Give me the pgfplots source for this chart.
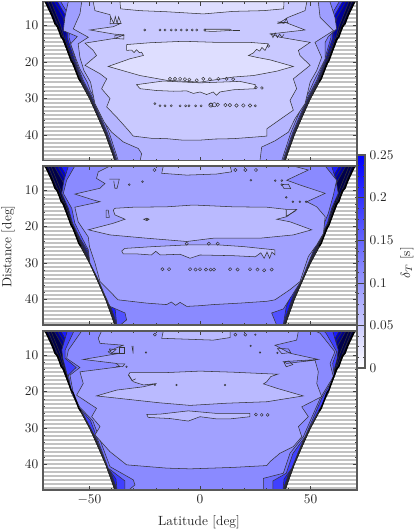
\documentclass[border=0pt]{standalone}
\usepackage{pgfplots}
\pgfplotsset{compat=1.18}
\definecolor{cont}{gray}{0.2}
\definecolor{navyb}{rgb}{0,0,0.3}
\pgfplotsset{
 panel/.style={scale only axis,width=235.5pt,height=119.25pt,anchor=south west,
  xmin=-71,xmax=71,ymin=3.4,ymax=47,y dir=reverse,
  xtick={-50,0,50},minor x tick num=4,ytick={10,20,30,40},minor y tick num=4,
  tick align=inside,major tick length=3pt,minor tick length=1.5pt,
  tick style={black!75,line width=0.4pt},axis on top,
  axis line style={black!65,line width=0.8pt},
  tick label style={black!85}},
 c/.style={draw=cont,line width=0.4pt},
 ln/.style={draw=cont,line width=0.4pt,no markers},
 chain/.style={only marks,mark=o,mark size=#1,mark options={draw=cont,line width=0.35pt,fill=none}},
 colormap={wb}{color=(white) color=(blue)}
}
\newcommand{\stripes}{%
 \pgfplotsinvokeforeach{3.6,4.7,5.8,6.9,8,9.1,10.2,11.3,12.4,13.5,14.6,15.7,16.8,17.9,19,20.1,21.2,22.3,23.4,24.5,25.6,26.7,27.8,28.9,30,31.1,32.2,33.3,34.4,35.5,36.6,37.7,38.8,39.9,41,42.1,43.2,44.3,45.4,46.5}{
  \addplot[black!24,line width=1.5pt,no markers] coordinates {(-71,##1)(71,##1)};
 }
}
% #1..#5: fill of the five corner bands, outermost first
\newcommand{\fan}[5]{%
 \addplot[fill=navyb,draw=black,line width=0.3pt] coordinates {(-70,3.4)(-65,10)(-62.5,13.3)(-58,20)(-54.5,25)(-50,30)(-43,39.5)(-38.5,47.1)(38.5,47.1)(43,39.5)(50,30)(54.5,25)(58,20)(62.5,13.3)(65,10)(70,3.4)} --cycle;
 \addplot[fill=#1,c] coordinates {(-68.7,3.4)(-64.2,10)(-62,13.3)(-57.6,20)(-54.1,25)(-49.7,30)(-42.8,39.5)(-38.3,47.1)(38.3,47.1)(42.8,39.5)(49.7,30)(54.1,25)(57.6,20)(62,13.3)(64.2,10)(68.7,3.4)} --cycle;
 \addplot[fill=#2,c] coordinates {(-67.4,3.4)(-63,10)(-61.5,13.3)(-57.2,20)(-53.8,25)(-49.4,30)(-42.6,39.5)(-38.1,47.1)(38.1,47.1)(42.6,39.5)(49.4,30)(53.8,25)(57.2,20)(61.5,13.3)(63,10)(67.4,3.4)} --cycle;
 \addplot[fill=#3,c] coordinates {(-66,3.4)(-61.8,8)(-60.5,12)(-60.8,13.3)(-56.8,20)(-53.5,25)(-49.1,30)(-42.4,39.5)(-37.9,47.1)(37.9,47.1)(42.4,39.5)(49.1,30)(53.5,25)(56.8,20)(60.8,13.3)(60.5,12)(61.8,8)(66,3.4)} --cycle;
 \addplot[fill=#4,c] coordinates {(-64.5,3.4)(-61,7)(-60,11)(-60,13.3)(-56.4,20)(-53.2,25)(-48.8,30)(-42.1,39.5)(-37.7,47.1)(37.7,47.1)(42.1,39.5)(48.8,30)(53.2,25)(56.4,20)(60,13.3)(60,11)(61,7)(64.5,3.4)} --cycle;
 \addplot[fill=#5,c] coordinates {(-63,3.4)(-59.5,7)(-59,11)(-59.2,13.3)(-56,20)(-52.8,25)(-48.4,30)(-41.8,39.5)(-37.4,47.1)(37.4,47.1)(41.8,39.5)(48.4,30)(52.8,25)(56,20)(59.2,13.3)(59,11)(59.5,7)(63,3.4)} --cycle;
}
\newcommand{\edge}{%
 \addplot[black,line width=1.1pt,no markers] coordinates {(-70,3.4)(-67,7.2)(-65.5,9.6)(-64.4,10.2)(-62.8,13.1)(-61.7,13.8)(-58.3,19.6)(-57.4,20.4)(-54.8,24.6)(-53.9,25.4)};
 \addplot[black!85,line width=0.6pt,no markers] coordinates {(-53.9,25.4)(-50.3,29.6)(-49.6,30.4)(-47.2,33.4)(-46.6,34.2)(-43.3,39.1)(-42.6,39.9)(-40.8,43)(-40.2,43.6)(-38.5,47.1)};
 \addplot[black,line width=1.1pt,no markers] coordinates {(70,3.4)(67,7.2)(65.5,9.6)(64.4,10.2)(62.8,13.1)(61.7,13.8)(58.3,19.6)(57.4,20.4)(54.8,24.6)(53.9,25.4)};
 \addplot[black!85,line width=0.6pt,no markers] coordinates {(53.9,25.4)(50.3,29.6)(49.6,30.4)(47.2,33.4)(46.6,34.2)(43.3,39.1)(42.6,39.9)(40.8,43)(40.2,43.6)(38.5,47.1)};
}
\begin{document}
\begin{tikzpicture}
\path[use as bounding box] (0,0) rectangle (312pt,399pt);
% ---------- panel 1
\begin{axis}[panel,at={(32.25pt,278.6pt)},xticklabels={}]
\stripes
\fan{navyb}{blue!60!black}{blue!80!black}{blue!72}{blue!52}
\addplot[fill=blue!38,c] coordinates {(-59.6,3.5)(-61.1,7.7)(-61.8,11.4)(-55.5,13)(-58.5,15)(-56.1,19.1)(-54.3,21.9)(-51,25.5)(-49.5,28)(-47.5,30)(-41,39.5)(-36.9,47.1)(36.9,47.1)(41,39.5)(47.5,30)(49.5,28)(51.3,25.5)(54.3,21.9)(56.6,19.1)(56.6,14.6)(58,13)(61.8,10.9)(61,7.7)(58.8,3.5)} --cycle;
\addplot[fill=blue!29,c] coordinates {(-53.5,3.5)(-54.3,6.8)(-57.3,10.9)(-50.5,13.2)(-55.1,15)(-54.3,18.7)(-52.5,22.3)(-49.5,25.5)(-47.5,31.4)(-43.4,36.4)(-40,39.2)(-34.7,41.9)(-27.9,43.7)(-26.4,45.1)(-27.1,47.1)(27.1,47.1)(27.9,43.3)(33.9,41.6)(40,39.2)(43,35.5)(47.5,31.4)(49.8,25.5)(52.8,22.3)(55,18.7)(52,14.6)(60.3,11.4)(54.3,7.7)(53.5,3.5)} --cycle;
\addplot[fill=blue!21,c] coordinates {(-48.3,3.5)(-47.5,5.9)(-40.7,7)(-40.4,7.9)(-40.7,9.5)(-35.9,9.4)(-39.2,10.3)(-49.8,11.2)(-39.2,12.3)(-34.4,12.6)(-38.5,13.5)(-52,14.8)(-48.3,16.8)(-46.8,18.2)(-52,20.9)(-45.2,23.2)(-42.2,24.6)(-44.5,27.3)(-40.7,30)(-42.2,32.3)(-37.7,35.1)(-32.4,38.7)(-30.2,40.3)(-22,40.9)(-15.1,41)(-8,41.4)(0,41.4)(7,41.1)(15.1,41)(24,40.6)(30.2,40.3)(30.2,38.3)(37.7,35.1)(42.2,33.2)(40.7,30.5)(43.7,27.3)(42.2,24.6)(49.8,20.9)(45.2,18.2)(44.5,16.8)(49.8,14.6)(36.2,13.2)(31.7,12.3)(47.5,11.2)(38.5,9.1)(35.4,9.4)(40,7.7)(47.5,5.9)(48.3,3.5)} --cycle;
\addplot[fill=blue!13,c] coordinates {(-36.2,3.5)(-35.9,5.4)(-27.2,5.9)(-15.1,6.2)(1.5,6.8)(15.1,6.1)(28.7,5.9)(37.8,5.4)(38,3.5)} --cycle;
\addplot[fill=blue!13,c] coordinates {(-33.2,15.2)(-22.6,14.7)(-7.5,14.3)(7.5,14.6)(22.6,14.6)(30.9,15)(29.4,16.8)(28,16)(27,17)(25.6,16.5)(24.1,17.5)(21.9,18.2)(25.6,18.7)(31.7,19.4)(42.2,21.2)(34.7,22.5)(24.1,23.7)(15.1,24.1)(0,25.5)(-15.1,25)(-27.1,23.7)(-41.5,21.2)(-31.7,19.1)(-25.6,18.2)(-26.4,17.3)(-27.5,17.4)(-28.7,16.6)(-29.8,17.4)(-30.9,16.7)(-33.2,16.8)} --cycle;
\addplot[fill=blue!13,c] coordinates {(-28.7,26.2)(-16.6,25.2)(0,25.7)(18,25.3)(25,26.2)(24.9,27.3)(15.1,27.6)(9,28.2)(7.5,29.1)(6,28.2)(3,28.9)(0,28.2)(-3,28.6)(-6,27.9)(-12,28)(-19.6,27.8)(-27.1,27.3)} --cycle;
\addplot[fill=blue!21,chain=1.2pt] coordinates {(-13.6,24.6)(-11.3,24.6)(-9,24.6)(-6.8,24.7)(-4.8,24.8)(-1.5,25)(1.5,24.6)(4.5,24.7)(8.3,24.6)(12,24.6)(15,24.7)};
\addplot[chain=1.3pt] coordinates {(5,31.7)(8,31.7)(11.5,31.8)(13.5,31.8)(16.5,31.9)(19.6,31.9)(22.6,31.9)};
\addplot[chain=1.6pt] coordinates {(4.9,31.8)(6.5,31.7)};
\addplot[chain=0.8pt] coordinates {(-18.1,32)(-15.8,32)(-13,32)(-9,32)(-6.5,32)(-5,32)(-2,32)(0.5,32)(25,32)(-20.4,31.4)(-25,11.2)(-18.1,11.2)(-15.8,11.2)(-13,11.2)(-11,11.2)(-8.5,11.2)(-6,11.2)(-3.5,11.2)(-1.5,11.2)(2.2,11.2)};
\addplot[chain=1pt] coordinates {(25.3,27)(28,27.1)(31,15.6)};
\addplot[fill=blue!13,c] coordinates {(2.3,11)(13.5,11)(14.5,11.3)(6,11.6)(2.3,11.5)} --cycle;
\addplot[ln] coordinates {(15,11.2)(18,11.2)};
\addplot[ln] coordinates {(-40.5,7.5)(-39,9.4)(-38.3,7.5)(-37.5,9.4)(-36.8,7.6)(-35.7,9.4)};
\addplot[ln] coordinates {(-38.5,12.7)(-34.5,12.5)(-34.4,13.7)(-38.5,13.5)(-38.5,12.7)};
\addplot[ln] coordinates {(35,9)(38,9.4)(39,8)(39.7,9.2)(35.4,9)};
\addplot[ln] coordinates {(32,12)(33,13.3)(34,12)(35,13.3)(36,12.3)(37,13.2)(38,12.4)};
\edge
\end{axis}
% ---------- panel 2
\begin{axis}[panel,at={(32.25pt,155.25pt)},xticklabels={}]
\stripes
\fan{navyb}{navyb}{blue!60!black}{blue!80!black}{blue!90}
\addplot[fill=blue!68,c] coordinates {(-59.5,3.4)(-61.5,7.3)(-62.5,10.9)(-59.5,15)(-57.6,19.1)(-54,23.5)(-51,26.4)(-48,30)(-43,36)(-38.5,42)(-37.6,47.1)(37.6,47.1)(39,42)(43,36)(48,30)(51,26.4)(54,23.5)(57.6,19.1)(59.5,15)(62.5,10.9)(61.5,7.3)(59.5,3.4)} --cycle;
\addplot[fill=blue!46,c] coordinates {(-56.6,3.4)(-60.3,7.3)(-61.8,10.9)(-58,15)(-56.6,19.1)(-53,23.5)(-50.5,26.4)(-49.8,30)(-46,34.6)(-43.4,38.3)(-40.7,41.9)(-33.9,43.7)(-33.2,45.6)(-36.2,47.1)(34.7,47.1)(32.4,43.7)(37.7,42.6)(42.2,38.3)(46,34.6)(49,30)(52,25.5)(55,20.9)(58,16.4)(60.3,11.4)(61.8,7.3)(56.6,3.4)} --cycle;
\addplot[fill=blue!37,c] coordinates {(-40.7,3.4)(-46,5)(-46.8,6.8)(-43,8.2)(-45.2,9.5)(-56.6,11.1)(-48.3,12.7)(-45.2,13.2)(-56.6,14.7)(-55.1,18.7)(-50.5,22.9)(-50,25.5)(-47.5,30)(-45.2,35.1)(-37,40.1)(-24.1,41)(-15.1,41.4)(-13,40.7)(-11,41.6)(-9,40.8)(-6,41.9)(0,41.7)(6,41.4)(18,41)(30.2,40.5)(33.9,40.1)(40.7,37.3)(45.2,35.1)(49,28.2)(52.8,25)(55.8,21.9)(56.6,17.3)(52.8,14.6)(48.3,13.2)(56.6,10.9)(45.2,8.6)(39.2,7.3)(49,4.5)(42.2,3.4)} --cycle;
\addplot[fill=blue!27,c] coordinates {(-39.2,15.5)(-38.5,15)(-30.2,14.7)(-15.1,14.6)(-3,14.1)(15.1,14.6)(30.2,14.7)(39.2,15.3)(43.7,15.3)(39.2,17.3)(34.7,18)(40.7,18.7)(50.5,20.9)(42.2,22.3)(27.1,23.2)(6,23.2)(-6,24.1)(-24.1,23.2)(-40.7,22.3)(-50.5,20.9)(-39.2,19.1)(-33.9,18)(-38.5,16.8)} --cycle;
\addplot[fill=blue!27,c] coordinates {(-35.4,26.7)(-34,26)(-21.1,25.5)(-4.5,25)(7.5,25)(19.6,25.5)(33.9,26.4)(33.9,27.8)(32.5,27)(31.5,28.7)(30.3,27)(29,28.7)(27.5,27.2)(25,28.3)(15.1,28)(0,27.8)(-4.5,28.7)(-9,27.6)(-18,27.8)(-20,26.8)(-22,27.8)(-28.7,27.5)(-34.7,27.5)} --cycle;
\addplot[fill=blue!27,c] coordinates {(-16.6,3.4)(-17.3,5.4)(-6,5.9)(7.5,5.6)(14.3,5)(13.6,3.4)} --cycle;
\addplot[chain=1.2pt] coordinates {(-17,31.7)(-14,31.7)(-4.5,31.7)(-2,31.8)(0,31.7)(2.7,31.8)(4.8,31.8)(6.3,31.8)(13.6,31.7)(17,31.8)(22.6,31.7)(26,31.8)(29,32)(32.4,31.8)(4,24.7)(8,24.7)(-6,24.7)(-20.6,4.5)(16,4.5)(20.5,4.5)(25.3,4.5)};
\addplot[chain=0.7pt] coordinates {(-26,7.7)(-32,8.5)(-24,18)(23,7.3)(37,7.4)(34,7.4)(48,13.2)(45.2,13.2)(42,13.2)(39,12)(37,8.5)};
\addplot[ln] coordinates {(-41,7)(-36.5,7)(-37.5,9.5)(-38.5,9.5)(-39,7.5)};
\addplot[ln] coordinates {(-42.5,15.5)(-42.5,17.5)(-41,17.5)(-41.5,15.5)(-42.5,15.5)};
\addplot[ln] coordinates {(39,15.4)(39,17.2)(43.5,15.6)};
\addplot[ln] coordinates {(37,8.5)(40,8.4)(41,9.6)(38,9.6)(37,8.5)};
\addplot[fill=blue!27,c] coordinates {(-25.5,18)(-24,17.7)(-23,18)(-24,18.4)} --cycle;
\edge
\end{axis}
% ---------- panel 3
\begin{axis}[panel,at={(32.25pt,31.5pt)},xticklabels={$-50$,$0$,$50$}]
\stripes
\fan{navyb}{navyb}{blue!55!black}{blue!75!black}{blue!90}
\addplot[fill=blue!75,c] coordinates {(-60,3.4)(-62.5,8.6)(-62,11)(-60,15.5)(-58,20.5)(-53,26)(-47,32.8)(-41.5,41)(-38,44)(-37.5,47.1)(37.5,47.1)(38,44)(41.5,41)(47,32.8)(53,26)(58,20.5)(60,15.5)(62,11)(62.5,8.6)(60,3.4)} --cycle;
\addplot[fill=blue!57,c] coordinates {(-57,3.4)(-61,8.6)(-61,10.9)(-56,13.4)(-59.5,15.5)(-58,20.5)(-55,24.2)(-49.5,28)(-46.5,32.8)(-41.5,41)(-34,44.5)(-34,47.1)(33,47.1)(33,44.5)(39,42.4)(42,37)(47.5,32.4)(55,21.9)(60.8,15.9)(60,12.3)(61.8,9.1)(57,4)(56,3.4)} --cycle;
\addplot[fill=blue!46,c] coordinates {(-53.5,3.4)(-59.5,8.6)(-60.3,10.9)(-54.3,13.4)(-58.8,15.5)(-57.3,20.5)(-54.5,24.2)(-48.5,28)(-45.5,32.8)(-40.7,40.6)(-30.2,44.2)(-29.4,45.6)(-32.4,47.1)(28.7,47.1)(28.7,43.8)(37.7,42.4)(40.7,36.9)(46.7,32.4)(54.3,21.9)(60.3,15.9)(58.8,12.3)(61,9.1)(54.3,4)(52,3.4)} --cycle;
\addplot[fill=blue!37,c] coordinates {(-44.5,3.4)(-46,5.4)(-45.2,6.8)(-34.7,7.3)(-38.5,8.2)(-41.5,9.1)(-40.7,9.5)(-36.2,9.5)(-52.8,11.2)(-37.7,12.3)(-36.2,13.2)(-54.3,14.6)(-52.8,17.8)(-55.8,21)(-46.8,24.6)(-49,26.9)(-45.2,29.6)(-47.5,31.9)(-40.7,36.5)(-33.2,40.1)(-15.1,41)(-4.5,41.2)(15.1,40.8)(30.2,40.3)(31.7,39.2)(36.2,36.9)(42.2,35.1)(46,32.4)(44.5,29.6)(49,26.9)(46,24.2)(55,21.4)(52.8,17.8)(53.5,14.6)(52,11.4)(39.2,12.3)(37.7,11.8)(53.5,11.2)(40.7,9.5)(33.9,7.3)(43.7,5.9)(44.5,3.4)} --cycle;
\addplot[fill=blue!27,c] coordinates {(-32.4,15.5)(-31.7,14.8)(-15.1,14.8)(0,14.4)(15.1,14.7)(33.2,15.2)(35.4,15.2)(32,15.9)(30.2,17.3)(28.7,17.9)(34.7,19.1)(46.7,21.2)(30.2,22.8)(12.1,23.2)(-4.5,23.8)(-18.1,23.1)(-46.8,21.2)(-37.7,19.6)(-25.6,18.7)(-19.6,17.8)(-25.6,18.2)(-30.2,17.3)} --cycle;
\addplot[fill=blue!27,c] coordinates {(-24.1,26.3)(-18.1,26.2)(-5.3,25.3)(7.5,26)(22.6,26)(22.6,26.9)(13.6,27.5)(7.5,27.5)(0,26.9)(-5.3,28.1)(-13.6,27.4)(-23.4,27.1)} --cycle;
\addplot[fill=blue!27,c] coordinates {(-16.6,3.4)(-17.3,5.4)(6,5.9)(13.6,5.2)(13.6,3.4)} --cycle;
\addplot[chain=1.1pt] coordinates {(25.3,26.3)(27.9,26.4)(30.6,26.4)(-20.4,4.4)(16,4.4)(20.5,4.4)};
\addplot[chain=0.6pt] coordinates {(-10.6,18.2)(11.3,18.2)(-20.4,18.2)(22.9,7.5)(27.1,9.3)(-24.4,9.3)(-33.2,13.2)(25,4.4)(35,9.4)};
\addplot[ln] coordinates {(-41,8.3)(-38,8.5)(-40,9.5)(-41,8.3)};
\addplot[ln] coordinates {(-36.5,7.8)(-34.4,7.8)(-34.4,9.6)(-36.5,9.6)(-36.5,7.8)};
\addplot[ln] coordinates {(-30.8,7.5)(-30.2,9.6)(-30.2,7.5)};
\addplot[ln] coordinates {(35,8.2)(40,8.3)(41,9.3)(37,9.6)(35,8.2)};
\addplot[ln] coordinates {(38,12)(40,11.6)(42,12.6)(39,13.2)(38,12)};
\addplot[ln] coordinates {(-38,12.4)(-34,12.4)(-35,13.2)(-38,13.1)};
\addplot[ln] coordinates {(-32,15.6)(-30.8,17)(-29,16.5)};
\edge
\end{axis}
% ---------- colour bar
\begin{axis}[scale only axis,width=6pt,height=159.75pt,at={(267.75pt,123pt)},anchor=south west,
 xmin=0,xmax=1,ymin=0,ymax=0.25,xtick=\empty,
 ytick={0,0.05,0.1,0.15,0.2,0.25},yticklabels={0,0.05,0.1,0.15,0.2,0.25},minor y tick num=3,
 yticklabel pos=right,tick align=inside,major tick length=3pt,minor tick length=1.5pt,
 tick style={black!75,line width=0.4pt},axis on top,
 axis line style={black!65,line width=0.8pt},tick label style={black!85},
 colormap name=wb,point meta min=0,point meta max=0.25]
\addplot[surf,shader=interp,mesh/rows=2,mesh/cols=2,point meta=y] coordinates {(0,0)(1,0)(0,0.25)(1,0.25)};
\end{axis}
\node[rotate=90,text=black!85] at (6pt,214pt) {Distance [deg]};
\node[text=black!85] at (149.25pt,7.5pt) {Latitude [deg]};
\node[rotate=90,text=black!85] at (305pt,201.75pt) {$\delta_T$ [s]};
\end{tikzpicture}
\end{document}
